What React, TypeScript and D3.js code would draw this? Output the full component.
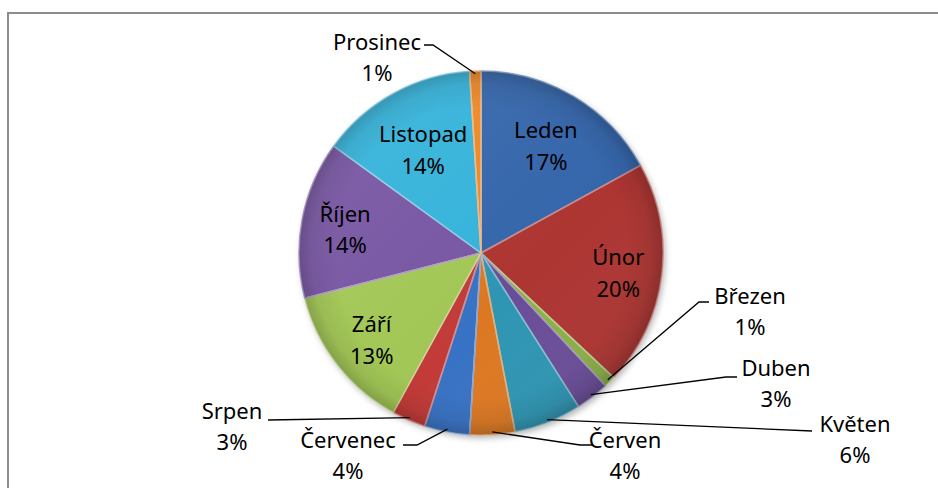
import React from 'react'
import * as d3 from 'd3'

// monthly shares
const months = ['Leden', 'Únor', 'Březen', 'Duben', 'Květen', 'Červen', 'Červenec', 'Srpen', 'Září', 'Říjen', 'Listopad', 'Prosinec']
const values = [17, 20, 1, 3, 6, 4, 4, 3, 13, 14, 14, 1]
const colors = ['#3566ab', '#ad3532', '#8ab045', '#6a4e98', '#2f95b3', '#dc7820', '#3772c4', '#c23a38', '#a2c755', '#7857a3', '#35b3da', '#ee8826']

// label layout: inside labels use a radius factor, outside ones get a text position + leader elbow
const inside = [true, true, false, false, false, false, false, false, true, true, true, false]
const labelRadius = [0.7, 0.76, 0, 0, 0, 0, 0, 0, 0.76, 0.76, 0.66, 0]
const outsideText: Record<number, [number, number]> = {
  2: [750, 296],
  3: [776, 368],
  4: [855, 424],
  5: [625, 440],
  6: [348, 440],
  7: [232, 411],
  11: [377, 42],
}
const leaderElbow: Record<number, [number, number, number, number]> = {
  2: [699, 302, 709, 302],
  3: [726, 377, 737, 377],
  4: [812, 431, 812, 431],
  5: [580, 445, 593, 445],
  6: [417, 445, 403, 445],
  7: [268, 420, 268, 420],
  11: [433, 45, 424, 45],
}

const width = 938
const height = 488
const cx = 481
const cy = 253
const r = 182

export default function App() {
  const pie = d3.pie<number>().sort(null).value(d => d)
  const arcs = pie(values)
  const arc = d3.arc<d3.PieArcDatum<number>>().innerRadius(0).outerRadius(r)
  const total = d3.sum(values)
  const pct = (v: number) => d3.format('.0%')(v / total)
  const font = '"Noto Sans", "Open Sans", sans-serif'

  const pointAt = (a: d3.PieArcDatum<number>, rad: number) => {
    const m = (a.startAngle + a.endAngle) / 2
    return [cx + rad * Math.sin(m), cy - rad * Math.cos(m)]
  }

  return (
    <svg width={width} height={height} style={{ position: 'absolute', left: 0, top: 0 }}>
      <defs>
        <radialGradient id="rim" cx="50%" cy="50%" r="50%">
          <stop offset="80%" stopColor="#000" stopOpacity={0} />
          <stop offset="93%" stopColor="#000" stopOpacity={0.07} />
          <stop offset="100%" stopColor="#000" stopOpacity={0.2} />
        </radialGradient>
        <linearGradient id="light" x1="0" y1="0" x2="1" y2="1">
          <stop offset="0%" stopColor="#fff" stopOpacity={0.08} />
          <stop offset="60%" stopColor="#fff" stopOpacity={0} />
          <stop offset="100%" stopColor="#000" stopOpacity={0.1} />
        </linearGradient>
        <filter id="shadow" x="-20%" y="-20%" width="140%" height="140%">
          <feDropShadow dx="2" dy="3" stdDeviation="3" floodColor="#000" floodOpacity={0.3} />
        </filter>
      </defs>
      <rect x={8} y={13} width={1000} height={1000} fill="#fff" stroke="#8c8c8c" strokeWidth={2} />

      <g transform={`translate(${cx},${cy})`}>
        <g filter="url(#shadow)">
          {arcs.map((a, i) => (
            <path key={i} d={arc(a) ?? ''} fill={colors[i]} />
          ))}
        </g>
        {arcs.map((a, i) => (
          <path key={'e' + i} d={arc(a) ?? ''} fill="none"
            stroke={d3.interpolateRgb(colors[i], '#fff')(0.4)} strokeWidth={1.5} strokeLinejoin="round" />
        ))}
        <circle r={r} fill="url(#rim)" />
        <circle r={r} fill="url(#light)" />
      </g>

      {arcs.map((a, i) => {
        if (!inside[i]) return null
        const [x, y] = pointAt(a, r * labelRadius[i])
        return (
          <text key={'l' + i} x={x} y={y} textAnchor="middle" fontFamily={font} fontSize={22} fill="#000">
            <tspan x={x} dy="-0.25em">{months[i]}</tspan>
            <tspan x={x} dy="1.45em">{pct(values[i])}</tspan>
          </text>
        )
      })}

      {arcs.map((a, i) => {
        if (inside[i]) return null
        const [sx, sy] = pointAt(a, r * 0.985)
        const [kx, ky, ex, ey] = leaderElbow[i]
        const [tx, ty] = outsideText[i]
        return (
          <g key={'o' + i}>
            <path d={`M${sx},${sy}L${kx},${ky}L${ex},${ey}`} fill="none" stroke="#000" strokeWidth={1.3} />
            <text x={tx} y={ty} textAnchor="middle" fontFamily={font} fontSize={22} fill="#000">
              <tspan x={tx} dy="0.35em">{months[i]}</tspan>
              <tspan x={tx} dy="1.4em">{pct(values[i])}</tspan>
            </text>
          </g>
        )
      })}
    </svg>
  )
}
